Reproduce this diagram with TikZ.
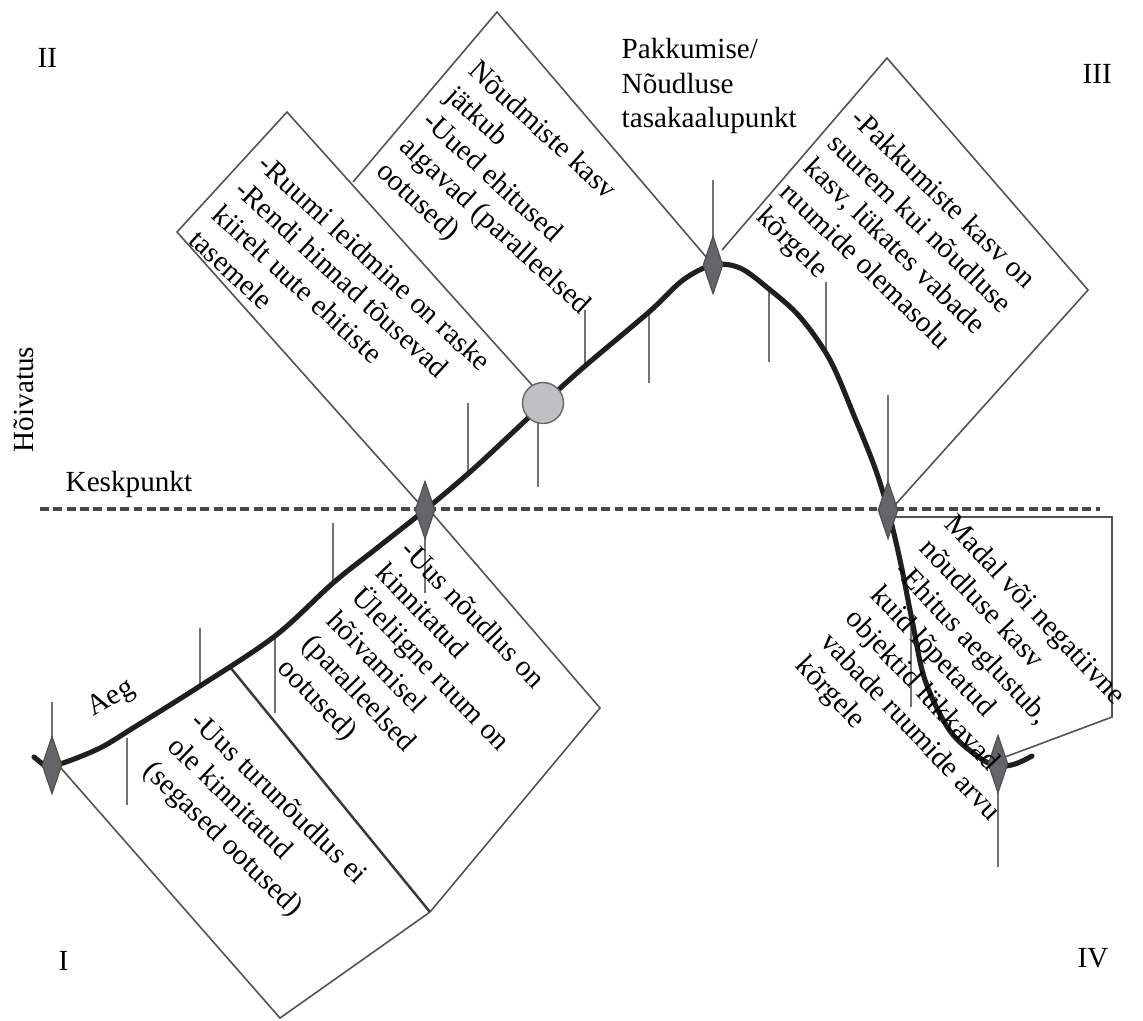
\documentclass[tikz,border=0pt]{standalone}
\usepackage{fontspec}
\setmainfont{Liberation Serif}
\usetikzlibrary{shapes.geometric}
\newcommand{\fsz}{\fontsize{8.3}{9.7}\selectfont}
\definecolor{mkfill}{RGB}{100,100,106}
\definecolor{dotfill}{RGB}{192,192,196}
\tikzset{
  cyc/.style={draw=black!88, line width=1.45pt, line cap=round, line join=round},
  tick/.style={draw=black!55, line width=0.45pt},
  frame/.style={draw=black!68, line width=0.45pt},
  heavyframe/.style={draw=black!78, line width=0.7pt},
  midline/.style={draw=black!72, line width=0.9pt, dash pattern=on 2.5pt off 1.3pt},
  mk/.style={diamond, fill=mkfill, draw=black!70, line width=0.3pt,
             minimum width=0.2cm, minimum height=0.58cm, inner sep=0pt},
  dot/.style={circle, fill=dotfill, draw=black!60, line width=0.4pt,
              minimum size=0.41cm, inner sep=0pt},
  note/.style={font=\fsz, align=left, inner sep=0pt, anchor=north west},
  lbl/.style={font=\fsz, inner sep=0pt},
}
\begin{document}
\begin{tikzpicture}[x=0.01cm, y=-0.01cm]
\useasboundingbox (0,0) rectangle (1143,1020);

% phase boxes
\draw[frame] (60,767) -- (280,1018) -- (430,912);
\draw[heavyframe] (230,667) -- (430,912);
\draw[frame] (430,912) -- (600,708) -- (432,513);
\draw[frame] (425,510) -- (177,232) -- (287,112) -- (532,385);
\draw[frame] (353,182) -- (497,12) -- (707,258);
\draw[frame] (722,250) -- (887,58) -- (1088,290) -- (895,505);
\draw[frame] (893,517) -- (1112,517) -- (1112,717) -- (1005,757);

% time ticks along the cycle
\foreach \x/\ya/\yb in {52/702/737, 127/738/805, 200/628/688, 275/635/713,
  333/523/582, 425/538/593, 468/403/472, 538/423/487, 585/310/366,
  649/312/383, 713/180/237, 769/290/362, 826/282/357, 888/395/483,
  911/622/707, 998/792/867}
  \draw[tick] (\x,\ya) -- (\x,\yb);

% midpoint level
\draw[midline] (40,509) -- (1100,509);

% the market cycle
\draw[cyc] (34,757) -- (45,766);
\draw[cyc] plot[smooth, tension=0.55] coordinates {
  (45,766) (63,763) (100,748) (133,728) (200,686) (275,636)
  (333,583) (377,548) (425,510) (470,472) (510,435) (543,404) (585,366)
  (649,312) (683,280) (713,265) (740,268) (769,289) (800,317) (830,360)
  (855,418) (875,468) (888,510) (900,560) (912,620) (925,680) (950,731)
  (980,758) (998,766) (1015,764) (1032,756)};

% turning points
\node[mk] (p1) at (52,765) {};
\node[mk] (p2) at (425,510) {};
\node[dot] (p3) at (543,403) {};
\node[mk] (p4) at (713,265) {};
\node[mk] (p5) at (888,510) {};
\node[mk] (p6) at (998,764) {};

% phase descriptions
\node[note, rotate=-44] (t1) at (204,708)
  {-Uus turunõudlus ei\\ole kinnitatud\\(segased ootused)};
\node[note, rotate=-46] (t2) at (414,536)
  {-Uus nõudlus on\\kinnitatud\\Üleliigne ruum on\\hõivamisel\\(paralleelsed\\ootused)};
\node[note, rotate=-42.5] (t3) at (270,151)
  {-Ruumi leidmine on raske\\-Rendi hinnad tõusevad\\kiirelt uute ehitiste\\tasemele};
\node[note, rotate=-42.5] (t4) at (481,57)
  {Nõudmiste kasv\\jätkub\\-Uued ehitused\\algavad (paralleelsed\\ootused)};
\node[note, rotate=-44] (t5) at (864,105)
  {-Pakkumiste kasv on\\suurem kui nõudluse\\kasv, lükates vabade\\ruumide olemasolu\\kõrgele};
\node[note, rotate=-46.5] (t6) at (958,511)
  {Madal või negatiivne\\nõudluse kasv\\-Ehitus aeglustub,\\kuid lõpetatud\\objektid lükkavad\\vabade ruumide arvu\\kõrgele};

% labels
\node[note] (eq) at (621,38) {Pakkumise/\\Nõudluse\\tasakaalupunkt};
\node[lbl, anchor=base west] (mid) at (65,491) {Keskpunkt};
\node[lbl, anchor=base west, rotate=90] (occ) at (33,453) {Hõivatus};
\node[lbl, anchor=base west, rotate=30] (time) at (93,717) {Aeg};
\node[lbl, anchor=base west] (q1) at (58,970) {I};
\node[lbl, anchor=base west] (q2) at (37,67) {II};
\node[lbl, anchor=base west] (q3) at (1082,83) {III};
\node[lbl, anchor=base west] (q4) at (1077,967) {IV};
\end{tikzpicture}
\end{document}
